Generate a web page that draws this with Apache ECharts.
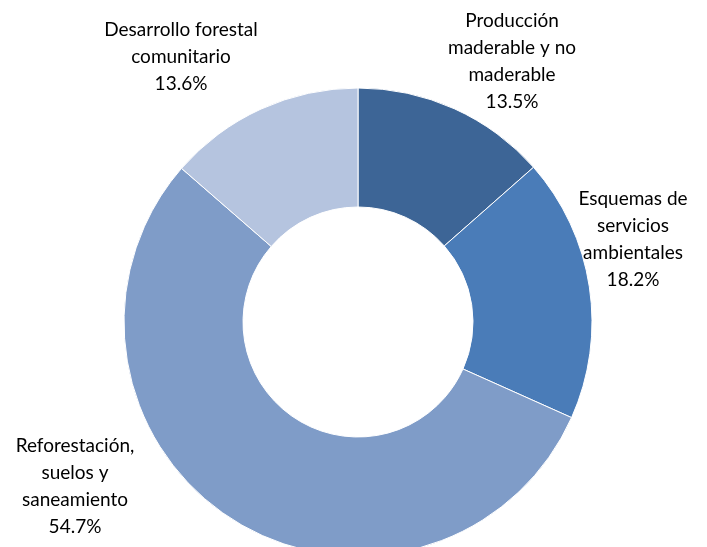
<!DOCTYPE html>
<html><head><meta charset="utf-8">
<script src="https://cdn.jsdelivr.net/npm/echarts@6/dist/echarts.min.js"></script>
<style>html,body{margin:0;padding:0;background:#fff}#c{width:707px;height:547px}</style>
</head><body><div id="c"></div>
<script>
const categories = ['Producción\nmaderable y no\nmaderable', 'Esquemas de\nservicios\nambientales', 'Reforestación,\nsuelos y\nsaneamiento', 'Desarrollo forestal\ncomunitario'];
const values = [13.5, 18.2, 54.7, 13.6];
const colors = ['#3D6596', '#4A7CB8', '#7F9CC8', '#B5C4DF'];
const labelPos = [[512, 61], [633, 239], [75, 486], [181, 57]];

const chart = echarts.init(document.getElementById('c'), null, {renderer: 'canvas'});
chart.setOption({
  animation: false,
  series: [{
    type: 'pie',
    center: [358, 322],
    radius: [115, 234],
    startAngle: 90,
    clockwise: true,
    data: categories.map((n, i) => ({name: n, value: values[i], itemStyle: {color: colors[i]}})),
    itemStyle: {borderColor: '#ffffff', borderWidth: 1},
    label: {
      show: true,
      position: 'outside',
      alignTo: 'none',
      overflow: 'none',
      formatter: p => p.name + '\n' + p.value.toFixed(1) + '%',
      fontFamily: 'Lato',
      fontSize: 19,
      lineHeight: 27,
      color: '#000',
      align: 'center'
    },
    labelLine: {show: false},
    labelLayout: p => ({x: labelPos[p.dataIndex][0], y: labelPos[p.dataIndex][1], align: 'center', verticalAlign: 'middle'})
  }]
});
</script></body></html>
